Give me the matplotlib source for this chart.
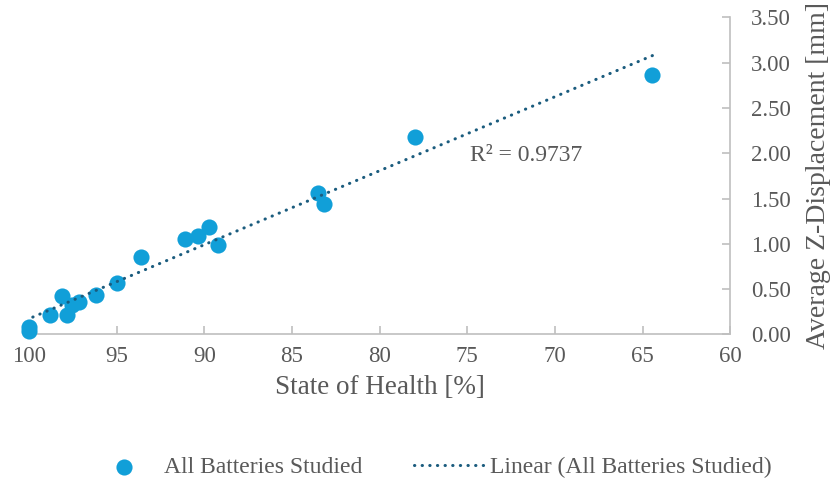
import matplotlib.pyplot as plt
import numpy as np
from matplotlib.ticker import FormatStrFormatter

plt.rcParams['font.family'] = ['Liberation Serif', 'DejaVu Serif']

# 健康狀態與平均Z位移
soh = [100.0, 100.0, 98.79, 98.12, 97.84, 97.55, 97.14, 96.19, 94.95,
       93.60, 91.09, 90.37, 89.71, 89.23, 83.49, 83.17, 77.98, 64.45]
z_disp = [0.08, 0.04, 0.22, 0.42, 0.22, 0.32, 0.36, 0.44, 0.57,
          0.86, 1.05, 1.085, 1.19, 0.99, 1.56, 1.44, 2.185, 2.87]
x_ticks = [100, 95, 90, 85, 80, 75, 70, 65, 60]
r2_text = 'R² = 0.9737'

grey = '#595959'
spine = '#BFBFBF'
dot_blue = '#119FD8'
trend = '#1B5C7E'

fig = plt.figure(figsize=(8.33, 4.83), dpi=100)
ax = fig.add_axes([0.0346, 0.3075, 0.8423, 0.6563])

ax.scatter(soh, z_disp, s=135, color=dot_blue, zorder=3, clip_on=False,
           label='All Batteries Studied', linewidths=0)

# 線性趨勢線
coef = np.polyfit(soh, z_disp, 1)
xs = np.array([min(soh), max(soh)])
ax.plot(xs, np.polyval(coef, xs), linestyle=(0, (0.1, 2.4)), linewidth=2.2,
        dash_capstyle='round', color=trend, zorder=4,
        label='Linear (All Batteries Studied)')

ax.text(74.85, 1.98, r2_text, fontsize=17, color=grey, va='center')

ax.set_xlim(100, 60)
ax.set_ylim(0, 3.5)
ax.set_xticks(x_ticks)
ax.set_yticks(np.arange(0, 3.51, 0.5))
ax.yaxis.set_major_formatter(FormatStrFormatter('%.2f'))

ax.yaxis.tick_right()
ax.yaxis.set_label_position('right')
for s in ['top', 'left']:
    ax.spines[s].set_visible(False)
for s in ['bottom', 'right']:
    ax.spines[s].set_color(spine)
    ax.spines[s].set_linewidth(1.2)

ax.tick_params(axis='x', direction='in', length=6, width=1.2, color=spine,
               labelcolor=grey, labelsize=16.5, pad=8)
ax.tick_params(axis='y', direction='in', length=6, width=1.2, color=spine,
               labelcolor=grey, labelsize=16.5, pad=15)

ax.set_xlabel('State of Health [%]', fontsize=19.5, color=grey, labelpad=6)
ax.set_ylabel('Average Z-Displacement [mm]', fontsize=20, color=grey,
              labelpad=11)

fig.legend(loc='center', bbox_to_anchor=(0.516, 0.033), ncol=2, frameon=False,
           fontsize=17, labelcolor=grey, columnspacing=2.2, handlelength=3.0,
           handletextpad=0.2)

fig.savefig('out.png', dpi=100)
